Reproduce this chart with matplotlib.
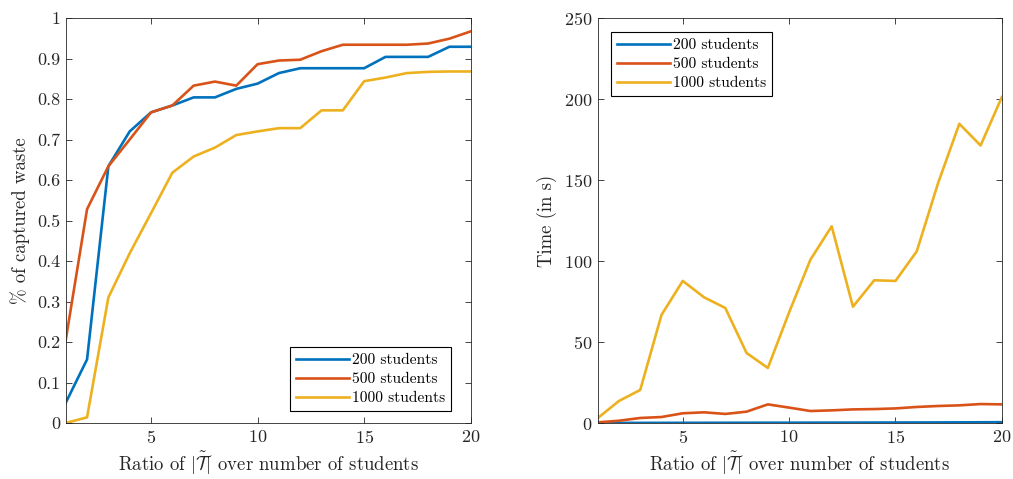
import matplotlib
matplotlib.use("Agg")
import matplotlib.pyplot as plt

plt.rcParams['font.family'] = ['cmr10', 'DejaVu Serif']
plt.rcParams['mathtext.fontset'] = 'cm'
plt.rcParams['axes.formatter.use_mathtext'] = True

ratio = list(range(1, 21))
series_names = ["200 students", "500 students", "1000 students"]
colors = ["#0072BD", "#D95319", "#EDB120"]

captured_200 = [0.05, 0.157, 0.634, 0.72, 0.767, 0.784, 0.804, 0.804, 0.825, 0.838,
                0.864, 0.876, 0.876, 0.876, 0.876, 0.904, 0.904, 0.904, 0.929, 0.929]
captured_500 = [0.205, 0.528, 0.634, 0.70, 0.767, 0.784, 0.833, 0.843, 0.833, 0.886,
                0.895, 0.897, 0.918, 0.934, 0.934, 0.934, 0.934, 0.937, 0.949, 0.967]
captured_1000 = [0.0, 0.014, 0.31, 0.419, 0.518, 0.618, 0.658, 0.680, 0.711, 0.720,
                 0.728, 0.728, 0.772, 0.772, 0.844, 0.853, 0.864, 0.867, 0.868, 0.868]

time_200 = [0.05, 0.07, 0.08, 0.1, 0.12, 0.13, 0.15, 0.17, 0.19, 0.2,
            0.22, 0.24, 0.26, 0.28, 0.3, 0.33, 0.36, 0.4, 0.45, 0.5]
time_500 = [0.4, 1.4, 3.1, 3.7, 6.0, 6.6, 5.6, 7.0, 11.5, 9.5,
            7.4, 7.8, 8.4, 8.6, 9.0, 9.9, 10.5, 10.9, 11.7, 11.5]
time_1000 = [3.0, 13.6, 20.4, 66.7, 87.7, 77.6, 71.0, 43.2, 34.0, 68.3,
             100.8, 121.4, 71.8, 88.1, 87.7, 106.0, 148.0, 184.7, 171.3, 201.2]

xlabel = r'Ratio of $|\tilde{\mathcal{T}}|$ over number of students'

fig = plt.figure(figsize=(10.13, 4.79), dpi=100)
ax1 = fig.add_axes([0.0649, 0.1169, 0.3998, 0.8455])
ax2 = fig.add_axes([0.5900, 0.1169, 0.3990, 0.8455])

for ax, data in ((ax1, [captured_200, captured_500, captured_1000]),
                 (ax2, [time_200, time_500, time_1000])):
    for name, col, vals in zip(series_names, colors, data):
        ax.plot(ratio, vals, color=col, lw=1.9, label=name)
    ax.set_xlim(1, 20)
    ax.set_xticks([5, 10, 15, 20])
    ax.tick_params(direction='in', top=True, right=True, labelsize=13,
                   length=4, width=0.6, color='#262626', labelcolor='#262626', pad=4)
    for s in ax.spines.values():
        s.set_linewidth(0.6)
        s.set_color('#262626')
    ax.set_xlabel(xlabel, fontsize=13.5, color='#262626', labelpad=3)

ax1.set_ylim(0, 1)
ax1.set_yticks([0, 0.1, 0.2, 0.3, 0.4, 0.5, 0.6, 0.7, 0.8, 0.9, 1])
ax1.set_yticklabels(['0', '0.1', '0.2', '0.3', '0.4', '0.5', '0.6', '0.7', '0.8', '0.9', '1'])
ax1.set_ylabel('% of captured waste', fontsize=13.5, color='#262626', labelpad=5)
ax2.set_ylim(0, 250)
ax2.set_yticks([0, 50, 100, 150, 200, 250])
ax2.set_ylabel('Time (in s)', fontsize=13.5, color='#262626', labelpad=5)

leg_kw = dict(fontsize=11.2, fancybox=False, edgecolor='black', framealpha=1,
              handlelength=3.4, handletextpad=0.2, borderpad=0.38, labelspacing=0.33,
              borderaxespad=0.0)
l1 = ax1.legend(loc='lower right', bbox_to_anchor=(0.952, 0.0296), **leg_kw)
l2 = ax2.legend(loc='upper left', bbox_to_anchor=(0.033, 0.965), **leg_kw)
for l in (l1, l2):
    l.get_frame().set_linewidth(0.8)

fig.savefig('out.png', dpi=100)
